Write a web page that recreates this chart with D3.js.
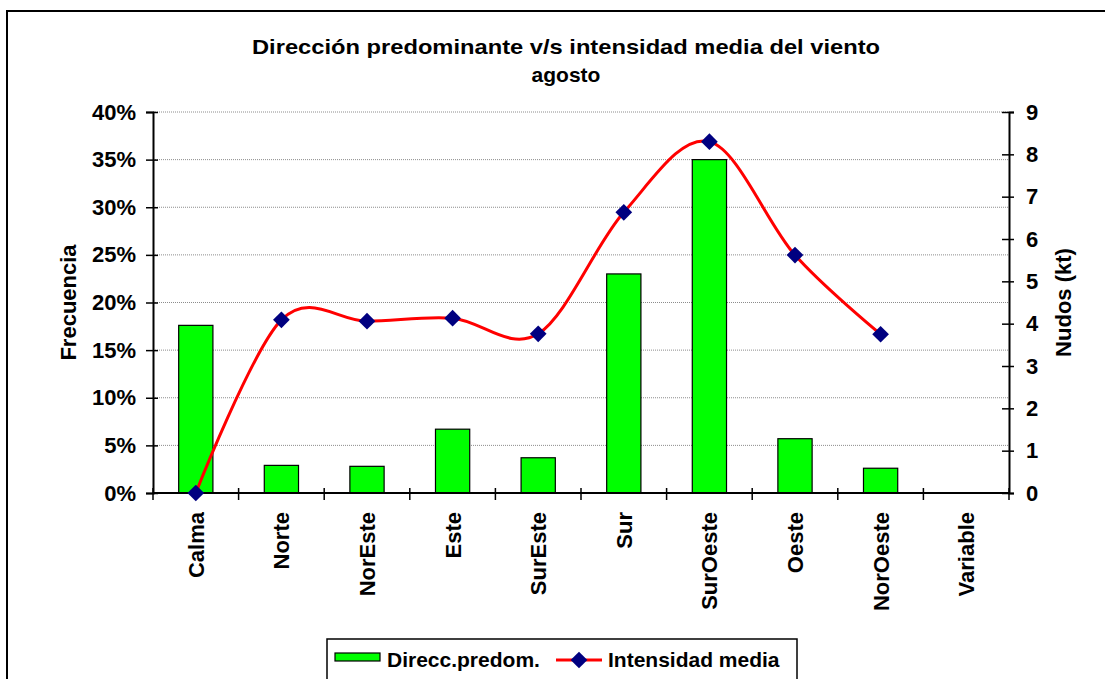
<!DOCTYPE html>
<html>
<head>
<meta charset="utf-8">
<script src="https://cdn.jsdelivr.net/npm/d3@7"></script>
<style>
  body { margin: 0; background: #fff; }
  text { font-family: "Liberation Sans", Arial, sans-serif; font-weight: bold; fill: #000; }
</style>
</head>
<body>
<div id="chart"></div>
<script>
// datos
var categorias = ['Calma', 'Norte', 'NorEste', 'Este', 'SurEste', 'Sur', 'SurOeste', 'Oeste', 'NorOeste', 'Variable'];
var frecuencia = [0.176, 0.029, 0.028, 0.067, 0.037, 0.230, 0.350, 0.057, 0.026, 0];
var intensidad = [0, 4.09, 4.06, 4.13, 3.76, 6.63, 8.30, 5.62, 3.75, null];
var ticksFrecuencia = [0, 0.05, 0.10, 0.15, 0.20, 0.25, 0.30, 0.35, 0.40];
var ticksNudos = [0, 1, 2, 3, 4, 5, 6, 7, 8, 9];
var tituloLineas = ['Dirección predominante v/s intensidad media del viento', 'agosto'];
var leyenda = ['Direcc.predom.', 'Intensidad media'];

var width = 1105, height = 679;
var plot = { left: 153, right: 1009, top: 112, bottom: 493 };

var svg = d3.select('#chart').append('svg')
  .attr('width', width)
  .attr('height', height);

// borde exterior del gráfico (cortado a la derecha y abajo)
svg.append('rect')
  .attr('x', 7).attr('y', 11)
  .attr('width', 1120).attr('height', 700)
  .attr('fill', '#fff')
  .attr('stroke', '#000')
  .attr('stroke-width', 2);

var x = d3.scaleBand()
  .domain(categorias)
  .range([plot.left, plot.right])
  .paddingInner(0.6)
  .paddingOuter(0.3);

var yFrec = d3.scaleLinear().domain([0, 0.4]).range([plot.bottom, plot.top]);
var yNudos = d3.scaleLinear().domain([0, 9]).range([plot.bottom, plot.top]);

// líneas de la grilla
svg.append('g')
  .selectAll('line')
  .data(ticksFrecuencia.slice(1))
  .enter()
  .append('line')
  .attr('x1', plot.left).attr('x2', plot.right)
  .attr('y1', function(d){ return yFrec(d); })
  .attr('y2', function(d){ return yFrec(d); })
  .attr('stroke', '#8c8c8c')
  .attr('stroke-width', 1)
  .attr('stroke-dasharray', '1,1');

// barras
svg.append('g')
  .selectAll('rect')
  .data(categorias)
  .enter()
  .filter(function(d, i){ return frecuencia[i] > 0; })
  .append('rect')
  .attr('x', function(d){ return x(d); })
  .attr('width', x.bandwidth())
  .attr('y', function(d){ return yFrec(frecuencia[categorias.indexOf(d)]); })
  .attr('height', function(d){ return plot.bottom - yFrec(frecuencia[categorias.indexOf(d)]); })
  .attr('fill', '#00ff00')
  .attr('stroke', '#000')
  .attr('stroke-width', 1.2);

// eje izquierdo
var ejeIzq = svg.append('g')
  .attr('transform', 'translate(' + plot.left + ',0)')
  .call(d3.axisLeft(yFrec).tickValues(ticksFrecuencia).tickFormat(d3.format('.0%')).tickSize(7).tickPadding(10));
ejeIzq.select('.domain').attr('stroke-width', 2);
ejeIzq.selectAll('.tick line').attr('x2', 5).attr('x1', -7).attr('stroke-width', 1.5);
ejeIzq.selectAll('.tick text').attr('font-size', 22).attr('x', -17).style('font-family', null);

// eje derecho
var ejeDer = svg.append('g')
  .attr('transform', 'translate(' + plot.right + ',0)')
  .call(d3.axisRight(yNudos).tickValues(ticksNudos).tickSize(5).tickPadding(10));
ejeDer.select('.domain').attr('stroke-width', 2);
ejeDer.selectAll('.tick line').attr('x1', -7).attr('x2', 5).attr('stroke-width', 1.5);
ejeDer.selectAll('.tick text').attr('font-size', 22).attr('x', 17).style('font-family', null);

// eje inferior: marcas entre categorías
var limites = d3.range(categorias.length + 1);
svg.append('g')
  .selectAll('line')
  .data(limites)
  .enter()
  .append('line')
  .attr('x1', function(i){ return plot.left + i * x.step(); })
  .attr('x2', function(i){ return plot.left + i * x.step(); })
  .attr('y1', plot.bottom - 5)
  .attr('y2', plot.bottom + 7)
  .attr('stroke', '#000')
  .attr('stroke-width', 1.5);

svg.append('line')
  .attr('x1', plot.left).attr('x2', plot.right)
  .attr('y1', plot.bottom).attr('y2', plot.bottom)
  .attr('stroke', '#000')
  .attr('stroke-width', 2);

// etiquetas de categorías
svg.append('g')
  .selectAll('text')
  .data(categorias)
  .enter()
  .append('text')
  .attr('transform', function(d){ return 'translate(' + (x(d) + x.bandwidth() / 2) + ',512) rotate(-90)'; })
  .attr('text-anchor', 'end')
  .attr('dy', '0.36em')
  .attr('font-size', 22)
  .text(function(d){ return d; });

// línea suavizada
var puntos = categorias.map(function(c, i){ return { cat: c, v: intensidad[i] }; });
var linea = d3.line()
  .defined(function(d){ return d.v !== null; })
  .x(function(d){ return x(d.cat) + x.bandwidth() / 2; })
  .y(function(d){ return yNudos(d.v); })
  .curve(d3.curveCardinal.tension(0));

svg.append('path')
  .datum(puntos)
  .attr('d', linea)
  .attr('fill', 'none')
  .attr('stroke', '#ff0000')
  .attr('stroke-width', 3);

var rombo = d3.symbol().type(d3.symbolSquare).size(140);
svg.append('g')
  .selectAll('path')
  .data(puntos.filter(function(d){ return d.v !== null; }))
  .enter()
  .append('path')
  .attr('d', rombo)
  .attr('transform', function(d){ return 'translate(' + (x(d.cat) + x.bandwidth() / 2) + ',' + yNudos(d.v) + ') rotate(45)'; })
  .attr('fill', '#000080');

// títulos de ejes
svg.append('text')
  .attr('transform', 'translate(68,' + ((plot.top + plot.bottom) / 2) + ') rotate(-90)')
  .attr('text-anchor', 'middle')
  .attr('dy', '0.36em')
  .attr('font-size', 22)
  .text('Frecuencia');

svg.append('text')
  .attr('transform', 'translate(1063,' + ((plot.top + plot.bottom) / 2) + ') rotate(-90)')
  .attr('text-anchor', 'middle')
  .attr('dy', '0.36em')
  .attr('font-size', 22)
  .text('Nudos (kt)');

// título
svg.append('text')
  .attr('x', 566).attr('y', 54)
  .attr('text-anchor', 'middle')
  .attr('font-size', 21)
  .attr('textLength', 628)
  .attr('lengthAdjust', 'spacingAndGlyphs')
  .text(tituloLineas[0]);
svg.append('text')
  .attr('x', 566).attr('y', 82)
  .attr('text-anchor', 'middle')
  .attr('font-size', 21)
  .text(tituloLineas[1]);

// leyenda
var ley = svg.append('g');
ley.append('rect')
  .attr('x', 327).attr('y', 639)
  .attr('width', 470).attr('height', 60)
  .attr('fill', '#fff')
  .attr('stroke', '#000')
  .attr('stroke-width', 1.5);
ley.append('rect')
  .attr('x', 335).attr('y', 653)
  .attr('width', 45).attr('height', 8)
  .attr('fill', '#00ff00')
  .attr('stroke', '#000')
  .attr('stroke-width', 1.2);
ley.append('text')
  .attr('x', 387).attr('y', 667)
  .attr('font-size', 21)
  .text(leyenda[0]);
ley.append('line')
  .attr('x1', 556).attr('x2', 602)
  .attr('y1', 660).attr('y2', 660)
  .attr('stroke', '#ff0000')
  .attr('stroke-width', 3);
ley.append('path')
  .attr('d', rombo)
  .attr('transform', 'translate(579,660) rotate(45)')
  .attr('fill', '#000080');
ley.append('text')
  .attr('x', 608).attr('y', 667)
  .attr('font-size', 21)
  .text(leyenda[1]);
</script>
</body>
</html>
